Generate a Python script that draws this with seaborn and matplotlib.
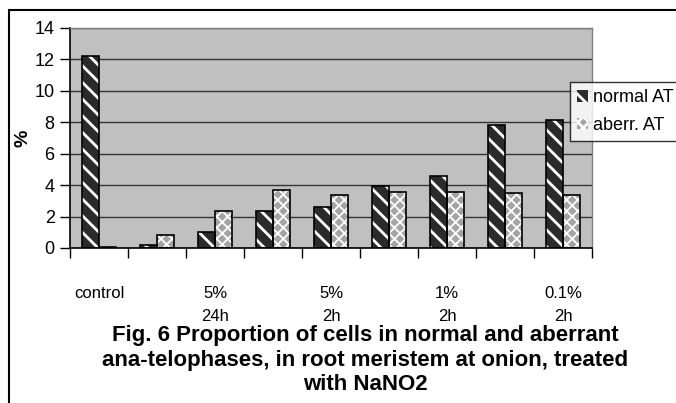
import pandas as pd
import matplotlib
matplotlib.use("Agg")
import matplotlib.pyplot as plt
import seaborn as sns
from matplotlib.patches import Rectangle, Patch

# ==========================
# DATA
# ==========================

groups = ["control", "g2", "5% 24h", "g4", "5% 2h", "g6", "1% 2h", "g8", "0.1% 2h"]
tick_labels = ["control", "", "5%\n24h", "", "5%\n2h", "", "1%\n2h", "", "0.1%\n2h"]
normal_at = [12.2, 0.18, 1.02, 2.34, 2.62, 3.96, 4.58, 7.85, 8.15]
aberr_at = [0.06, 0.8, 2.34, 3.66, 3.4, 3.57, 3.57, 3.49, 3.4]
series = ["normal AT", "aberr. AT"]

title = ("Fig. 6 Proportion of cells in normal and aberrant\n"
         "ana-telophases, in root meristem at onion, treated\n"
         "with NaNO2")

df = pd.DataFrame({
    "group": groups * 2,
    "value": normal_at + aberr_at,
    "series": [series[0]] * len(groups) + [series[1]] * len(groups),
})

# ==========================
# STYLE
# ==========================

sns.set_style("white")
plt.rcParams["font.family"] = ["Liberation Sans", "DejaVu Sans"]
plt.rcParams["hatch.linewidth"] = 2.0
for key in ["text.color", "axes.labelcolor", "xtick.color", "ytick.color"]:
    plt.rcParams[key] = "black"

dark = "#2b2b2b"
light = "#a4a4a4"

fig = plt.figure(figsize=(6.76, 4.03), dpi=100)
ax = fig.add_axes([70 / 676, 155 / 403, 522 / 676, 220 / 403])
ax.set_facecolor("#c0c0c0")

sns.barplot(
    data=df, x="group", y="value", hue="series", order=groups,
    hue_order=series, palette=[dark, light], width=0.6, gap=0,
    linewidth=0, legend=False, ax=ax,
)


def style_patch(p, normal):
    p.set_hatch("\\\\" if normal else "xxx")
    p.set_edgecolor("white")
    p.set_linewidth(0)
    if hasattr(p, "set_hatch_linewidth"):
        p.set_hatch_linewidth(2.0 if normal else 1.3)


# ==========================
# HATCHING + OUTLINES
# ==========================

n = len(groups)
bars = list(ax.patches)
for i, p in enumerate(bars):
    style_patch(p, i < n)
    ax.add_patch(Rectangle((p.get_x(), p.get_y()), p.get_width(), p.get_height(),
                           fill=False, edgecolor="black", linewidth=1.2, zorder=3))

# ==========================
# AXES
# ==========================

ax.set_ylim(0, 14)
ax.set_xlim(-0.5, n - 0.5)
ax.set_yticks(range(0, 15, 2))
ax.tick_params(axis="y", labelsize=13, length=7, width=1, direction="out", pad=4, left=True)
ax.yaxis.grid(True, color="#333333", linewidth=1)
ax.set_axisbelow(True)

ax.set_xticks([i - 0.5 for i in range(n + 1)])
ax.set_xticklabels([""] * (n + 1))
ax.tick_params(axis="x", which="major", length=7, width=1, direction="out", bottom=True)
ax.set_xticks(range(n), minor=True)
ax.set_xticklabels(tick_labels, minor=True, fontsize=12, linespacing=1.7)
ax.tick_params(axis="x", which="minor", length=0, pad=27)

ax.set_xlabel("")
ax.set_ylabel("%", fontsize=14, fontweight="bold")
ax.yaxis.set_label_coords(-39 / 522, 0.5)

for side in ["left", "bottom"]:
    ax.spines[side].set_color("black")
    ax.spines[side].set_linewidth(1.2)
for side in ["top", "right"]:
    ax.spines[side].set_visible(True)
    ax.spines[side].set_color("#808080")
    ax.spines[side].set_linewidth(1.0)

# ==========================
# LEGEND
# ==========================

handles = [Patch(facecolor=dark), Patch(facecolor=light)]
for i, h in enumerate(handles):
    style_patch(h, i == 0)
leg = ax.legend(handles, series, loc="upper left", bbox_to_anchor=(570 / 676, 321 / 403),
                bbox_transform=fig.transFigure, fontsize=13, frameon=True, fancybox=False,
                handlelength=0.6, handleheight=0.6, handletextpad=0.3, labelspacing=0.6,
                borderpad=0.4, borderaxespad=0)
leg.get_frame().set_edgecolor("black")
leg.get_frame().set_linewidth(1.0)

# ==========================
# TITLE + FRAME
# ==========================

fig.text(365 / 676, 1 - 325 / 403, title, ha="center", va="top", fontsize=16,
         fontweight="bold", linespacing=1.22, color="black", transform=fig.transFigure)

fig.add_artist(Rectangle((9 / 676, -0.1), 1.2, 393 / 403 + 0.1, transform=fig.transFigure,
                         fill=False, edgecolor="black", linewidth=1.5, clip_on=False))

fig.savefig("out.png", dpi=100)
plt.close()
